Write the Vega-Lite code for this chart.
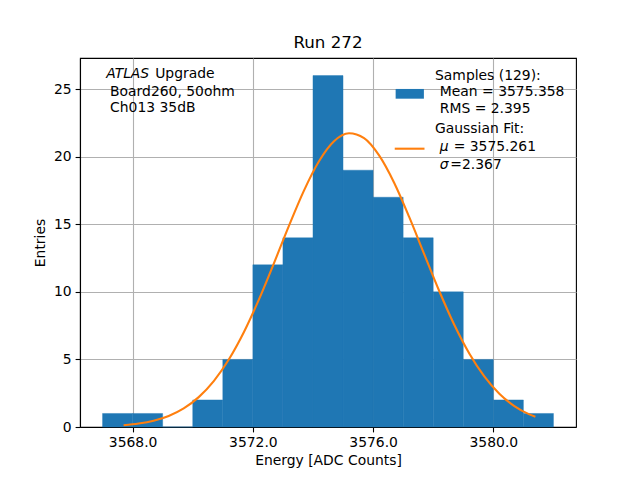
{
  "$schema": "https://vega.github.io/schema/vega-lite/v6.json",
  "width": 496,
  "height": 369,
  "autosize": "none",
  "padding": {"left": 80, "top": 58, "right": 64, "bottom": 53},
  "background": "white",
  "title": {"text": "Run 272", "fontSize": 16.7, "fontWeight": "normal", "font": "DejaVu Sans", "color": "black", "offset": 6},
  "datasets": {
    "bins": [
      {"lo": 3567, "hi": 3568, "n": 1},
      {"lo": 3568, "hi": 3569, "n": 1},
      {"lo": 3569, "hi": 3570, "n": 0},
      {"lo": 3570, "hi": 3571, "n": 2},
      {"lo": 3571, "hi": 3572, "n": 5},
      {"lo": 3572, "hi": 3573, "n": 12},
      {"lo": 3573, "hi": 3574, "n": 14},
      {"lo": 3574, "hi": 3575, "n": 26},
      {"lo": 3575, "hi": 3576, "n": 19},
      {"lo": 3576, "hi": 3577, "n": 17},
      {"lo": 3577, "hi": 3578, "n": 14},
      {"lo": 3578, "hi": 3579, "n": 10},
      {"lo": 3579, "hi": 3580, "n": 5},
      {"lo": 3580, "hi": 3581, "n": 2},
      {"lo": 3581, "hi": 3582, "n": 1}
    ],
    "fit": [
      {"energy": 3567.7, "fit": 0.132},
      {"energy": 3568.2, "fit": 0.254},
      {"energy": 3568.7, "fit": 0.466},
      {"energy": 3569.2, "fit": 0.819},
      {"energy": 3569.7, "fit": 1.377},
      {"energy": 3570.2, "fit": 2.211},
      {"energy": 3570.7, "fit": 3.394},
      {"energy": 3571.2, "fit": 4.99},
      {"energy": 3571.7, "fit": 7.009},
      {"energy": 3572.2, "fit": 9.422},
      {"energy": 3572.7, "fit": 12.107},
      {"energy": 3573.2, "fit": 14.88},
      {"energy": 3573.7, "fit": 17.49},
      {"energy": 3574.2, "fit": 19.66},
      {"energy": 3574.7, "fit": 21.14},
      {"energy": 3575.2, "fit": 21.73},
      {"energy": 3575.7, "fit": 21.37},
      {"energy": 3576.2, "fit": 20.09},
      {"energy": 3576.7, "fit": 18.07},
      {"energy": 3577.2, "fit": 15.54},
      {"energy": 3577.7, "fit": 12.79},
      {"energy": 3578.2, "fit": 10.06},
      {"energy": 3578.7, "fit": 7.566},
      {"energy": 3579.2, "fit": 5.443},
      {"energy": 3579.7, "fit": 3.746},
      {"energy": 3580.2, "fit": 2.466},
      {"energy": 3580.7, "fit": 1.551},
      {"energy": 3581.2, "fit": 0.934},
      {"energy": 3581.4, "fit": 0.752}
    ],
    "one": [{}]
  },
  "layer": [
    {
      "data": {"name": "bins"},
      "mark": {"type": "rect", "color": "#1f77b4", "stroke": "#1f77b4", "strokeWidth": 0.4},
      "encoding": {
        "x": {
          "field": "lo",
          "type": "quantitative",
          "title": "Energy [ADC Counts]",
          "scale": {"domain": [3566.25, 3582.75], "nice": false, "zero": false},
          "axis": {"values": [3568, 3572, 3576, 3580], "format": ".1f"}
        },
        "x2": {"field": "hi"},
        "y": {
          "field": "n",
          "type": "quantitative",
          "title": "Entries",
          "scale": {"domain": [0, 27.3], "nice": false},
          "axis": {"values": [0, 5, 10, 15, 20, 25]}
        },
        "y2": {"datum": 0}
      }
    },
    {
      "data": {"name": "fit"},
      "mark": {"type": "line", "color": "#ff7f0e", "strokeWidth": 2.1, "interpolate": "monotone"},
      "encoding": {
        "x": {"field": "energy", "type": "quantitative"},
        "y": {"field": "fit", "type": "quantitative"}
      }
    },
    {
      "data": {"name": "one"},
      "layer": [
        {
          "mark": {"type": "text", "text": "ATLAS", "fontStyle": "italic", "align": "left", "baseline": "middle"},
          "encoding": {"x": {"datum": 3567.12, "type": "quantitative"}, "y": {"datum": 26.09, "type": "quantitative"}}
        },
        {
          "mark": {"type": "text", "text": "Upgrade", "align": "left", "baseline": "middle"},
          "encoding": {"x": {"datum": 3568.75, "type": "quantitative"}, "y": {"datum": 26.09, "type": "quantitative"}}
        },
        {
          "mark": {"type": "text", "text": "Board260, 50ohm", "align": "left", "baseline": "middle"},
          "encoding": {"x": {"datum": 3567.25, "type": "quantitative"}, "y": {"datum": 24.76, "type": "quantitative"}}
        },
        {
          "mark": {"type": "text", "text": "Ch013 35dB", "align": "left", "baseline": "middle"},
          "encoding": {"x": {"datum": 3567.25, "type": "quantitative"}, "y": {"datum": 23.58, "type": "quantitative"}}
        },
        {
          "mark": {"type": "rect", "color": "#1f77b4"},
          "encoding": {
            "x": {"datum": 3576.75, "type": "quantitative"},
            "x2": {"datum": 3577.69},
            "y": {"datum": 25.01, "type": "quantitative"},
            "y2": {"datum": 24.29}
          }
        },
        {
          "mark": {"type": "rule", "color": "#ff7f0e", "strokeWidth": 2.1},
          "encoding": {
            "x": {"datum": 3576.72, "type": "quantitative"},
            "x2": {"datum": 3577.71},
            "y": {"datum": 20.59, "type": "quantitative"}
          }
        },
        {
          "mark": {"type": "text", "text": "Samples (129):", "align": "left", "baseline": "middle"},
          "encoding": {"x": {"datum": 3578.06, "type": "quantitative"}, "y": {"datum": 25.99, "type": "quantitative"}}
        },
        {
          "mark": {"type": "text", "text": "Mean = 3575.358", "align": "left", "baseline": "middle"},
          "encoding": {"x": {"datum": 3578.22, "type": "quantitative"}, "y": {"datum": 24.76, "type": "quantitative"}}
        },
        {
          "mark": {"type": "text", "text": "RMS = 2.395", "align": "left", "baseline": "middle"},
          "encoding": {"x": {"datum": 3578.22, "type": "quantitative"}, "y": {"datum": 23.53, "type": "quantitative"}}
        },
        {
          "mark": {"type": "text", "text": "Gaussian Fit:", "align": "left", "baseline": "middle"},
          "encoding": {"x": {"datum": 3578.06, "type": "quantitative"}, "y": {"datum": 22.03, "type": "quantitative"}}
        },
        {
          "mark": {"type": "text", "text": "μ", "fontStyle": "italic", "align": "left", "baseline": "middle"},
          "encoding": {"x": {"datum": 3578.22, "type": "quantitative"}, "y": {"datum": 20.69, "type": "quantitative"}}
        },
        {
          "mark": {"type": "text", "text": "= 3575.261", "align": "left", "baseline": "middle"},
          "encoding": {"x": {"datum": 3578.68, "type": "quantitative"}, "y": {"datum": 20.69, "type": "quantitative"}}
        },
        {
          "mark": {"type": "text", "text": "σ", "fontStyle": "italic", "align": "left", "baseline": "middle"},
          "encoding": {"x": {"datum": 3578.22, "type": "quantitative"}, "y": {"datum": 19.38, "type": "quantitative"}}
        },
        {
          "mark": {"type": "text", "text": "=2.367", "align": "left", "baseline": "middle"},
          "encoding": {"x": {"datum": 3578.57, "type": "quantitative"}, "y": {"datum": 19.38, "type": "quantitative"}}
        }
      ]
    }
  ],
  "config": {
    "font": "DejaVu Sans",
    "view": {"stroke": "black", "strokeWidth": 1.1},
    "text": {"font": "DejaVu Sans", "fontSize": 13.9, "color": "black"},
    "axis": {
      "zindex": 1,
      "grid": true,
      "gridColor": "#b0b0b0",
      "gridWidth": 1.1,
      "gridOpacity": 1,
      "domainColor": "black",
      "domainWidth": 1.1,
      "tickColor": "black",
      "tickWidth": 1.1,
      "tickSize": 4.9,
      "labelFont": "DejaVu Sans",
      "labelFontSize": 13.9,
      "labelColor": "black",
      "labelPadding": 4,
      "titleFont": "DejaVu Sans",
      "titleFontSize": 13.9,
      "titleFontWeight": "normal",
      "titleColor": "black"
    },
    "axisX": {"titlePadding": 4, "labelFlush": false},
    "axisY": {"titlePadding": 6, "labelFlush": false}
  }
}
